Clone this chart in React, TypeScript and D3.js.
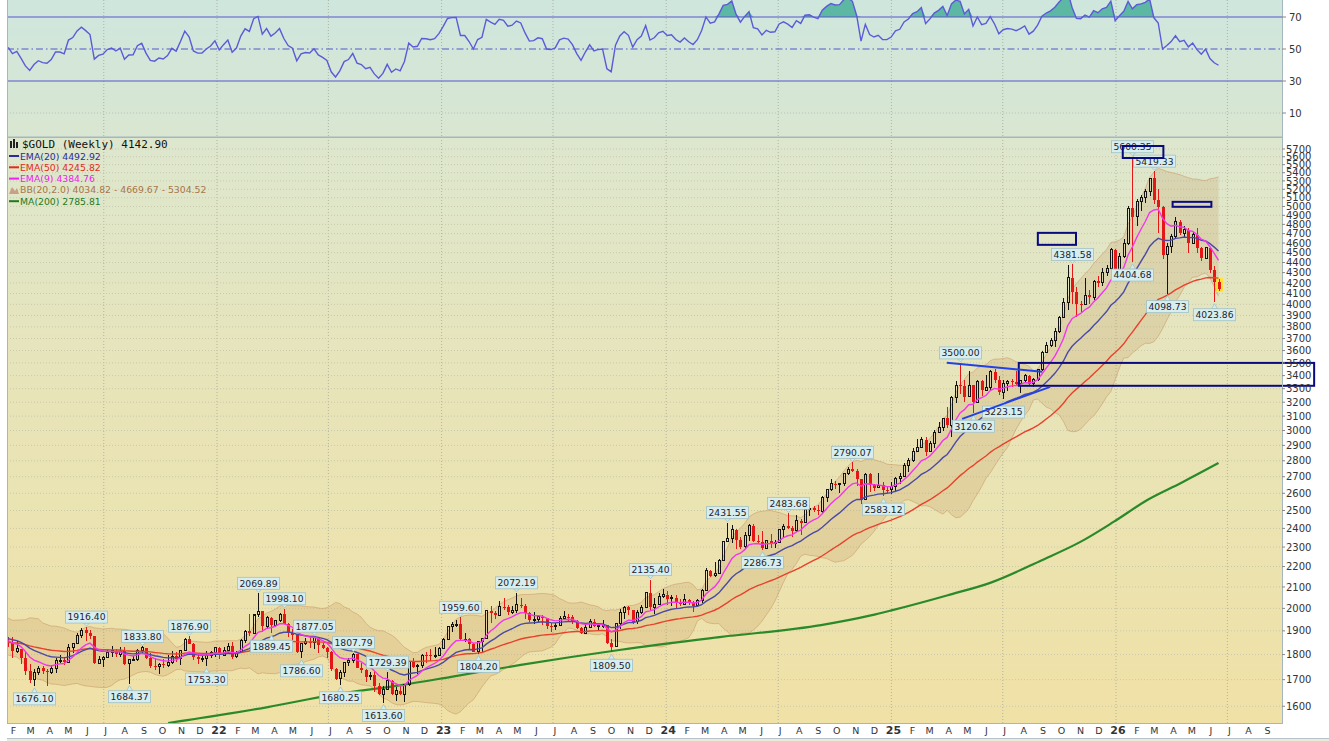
import React from "react";
import * as d3 from "d3";

// ---------- DATA ----------
const FIRST_WEEK = "2021-01-25";

// weekly closes before the first visible bar (indicator warm-up only)
const priorCloses = [
  1774, 1799, 1810, 1902, 1975, 2035, 1944, 1940, 1964, 1934,
  1940, 1950, 1862, 1900, 1930, 1899, 1902, 1879, 1951, 1889,
  1871, 1788, 1839, 1839, 1881, 1883, 1895, 1850, 1828, 1856,
];

const opens = [
  // 2021
  1856, 1848, 1813, 1824, 1784, 1734, 1700, 1727, 1745, 1733,
  1729, 1744, 1777, 1777, 1769, 1831, 1844, 1881, 1903, 1891,
  1877, 1764, 1781, 1787, 1808, 1815, 1802, 1814, 1763, 1780,
  1781, 1818, 1828, 1788, 1754, 1750, 1761, 1757, 1768, 1793,
  1783, 1818, 1865, 1846, 1792, 1783, 1783, 1798, 1809,
  // 2022
  1829, 1797, 1817, 1835, 1791, 1807, 1859, 1898, 1889, 1970,
  1988, 1921, 1958, 1925, 1945, 1974, 1931, 1897, 1883, 1811,
  1846, 1853, 1851, 1871, 1840, 1827, 1811, 1742, 1703, 1727,
  1766, 1775, 1802, 1747, 1738, 1712, 1717, 1675, 1644, 1661,
  1695, 1644, 1657, 1645, 1681, 1771, 1751, 1755, 1798, 1797,
  1793, 1798,
  // 2023
  1824, 1865, 1920, 1926, 1928, 1865, 1865, 1842, 1811, 1856,
  1868, 1989, 1978, 1969, 2008, 2004, 1983, 1990, 2017, 2011,
  1977, 1946, 1948, 1961, 1958, 1921, 1919, 1925, 1955, 1962,
  1959, 1943, 1914, 1889, 1915, 1940, 1919, 1924, 1925, 1848,
  1833, 1932, 1981, 2006, 1992, 1940, 1981, 2002, 2072, 2004,
  2019, 2053,
  // 2024
  2063, 2045, 2049, 2029, 2018, 2039, 2024, 2013, 2035, 2083,
  2179, 2155, 2165, 2230, 2329, 2344, 2392, 2337, 2302, 2360,
  2415, 2334, 2327, 2293, 2333, 2322, 2326, 2392, 2411, 2401,
  2386, 2443, 2431, 2507, 2512, 2503, 2497, 2577, 2622, 2658,
  2653, 2657, 2721, 2747, 2736, 2685, 2563, 2715, 2650, 2633,
  2648, 2622,
  // 2025
  2621, 2640, 2690, 2703, 2770, 2800, 2861, 2883, 2936, 2858,
  2910, 2984, 3023, 3085, 3037, 3237, 3327, 3319, 3240, 3325,
  3200, 3357, 3290, 3310, 3432, 3368, 3273, 3337, 3355, 3350,
  3337, 3363, 3398, 3336, 3371, 3448, 3586, 3643, 3685, 3760,
  3886, 4018, 4250, 4113, 4002, 3999, 4085, 4065, 4218, 4200,
  4300, 4340, 4530,
  // 2026
  4330, 4460, 4590, 4980, 4885, 5060, 5100, 5170, 5330, 5075,
  4996, 4477, 4565, 4669, 4831, 4705, 4740, 4599, 4690, 4547,
  4443, 4550, 4325, 4211,
];

const highs = [
  // 2021
  1875, 1875, 1855, 1825, 1815, 1760, 1740, 1755, 1755, 1740,
  1759, 1784, 1797, 1790, 1845, 1845, 1890, 1913, 1916.4, 1903,
  1878, 1795, 1795, 1818, 1834, 1825, 1832, 1832, 1782, 1795,
  1823, 1833.8, 1828, 1808, 1788, 1764, 1781, 1800, 1814, 1810,
  1818, 1868, 1876.9, 1847, 1808, 1793, 1815, 1815, 1831,
  // 2022
  1831, 1830, 1848, 1853, 1815, 1865, 1903, 1974, 1966, 2069.89,
  1990, 1966, 1960, 1949, 1980, 1998.1, 1936, 1909, 1884, 1849,
  1870, 1874, 1877.05, 1870, 1847, 1830, 1813, 1745, 1739, 1767,
  1788, 1807.79, 1802, 1765, 1740, 1730, 1735, 1688, 1675, 1729.39,
  1700, 1670, 1675, 1683, 1775, 1786, 1763, 1804, 1810, 1824,
  1833, 1833,
  // 2023
  1870, 1922, 1937, 1949, 1959.6, 1890, 1870, 1848, 1858, 1870,
  1989, 2009, 1988, 2032, 2049, 2015, 2009, 2072.19, 2048, 2022,
  1985, 1984, 1971, 1972, 1958, 1935, 1935, 1964, 1987, 1975,
  1970, 1948, 1916, 1925, 1953, 1953, 1932, 1947, 1926, 1867,
  1932, 1997, 2009, 2010, 1993, 1993, 2017, 2075, 2135.4, 2047,
  2070, 2088,
  // 2024
  2079, 2062, 2062, 2042, 2065, 2044, 2032, 2041, 2088, 2195,
  2185, 2223, 2236, 2331, 2431.55, 2418, 2394, 2352, 2378, 2422,
  2425, 2364, 2388, 2336, 2368, 2338, 2392, 2424, 2483.68, 2412,
  2477, 2451, 2509, 2531, 2528, 2529, 2585, 2625, 2685, 2673,
  2664, 2722, 2758, 2790.07, 2750, 2685, 2721, 2721, 2658, 2726,
  2665, 2638,
  // 2025
  2665, 2698, 2726, 2786, 2817, 2886, 2942, 2955, 2956, 2930,
  3005, 3057, 3087, 3168, 3245, 3357, 3500, 3368, 3438, 3328,
  3365, 3368, 3403, 3447, 3451, 3398, 3365, 3368, 3377, 3439,
  3370, 3409, 3404, 3379, 3453, 3600, 3674, 3707, 3791, 3897,
  4059, 4380, 4381.58, 4160, 4030, 4245, 4130, 4230, 4265, 4350,
  4380, 4550, 4540,
  // 2026
  4500, 4640, 5000, 5600.35, 5090, 5130, 5200, 5340, 5419.33, 5200,
  5010, 4600, 4700, 4886, 4850, 4780, 4760, 4720, 4760, 4560,
  4560, 4560, 4370, 4240,
];

const lows = [
  // 2021
  1832, 1785, 1808, 1761, 1717, 1687, 1676.1, 1719, 1721, 1677,
  1721, 1725, 1764, 1756, 1767, 1808, 1843, 1870, 1856, 1866,
  1761, 1762, 1750, 1785, 1792, 1789, 1792, 1757, 1684.37, 1773,
  1774, 1808, 1782, 1745, 1738, 1721, 1746, 1750, 1760, 1770,
  1758, 1817, 1846, 1778, 1762, 1768, 1753.3, 1785, 1791,
  // 2022
  1782, 1796, 1805, 1780, 1788, 1807, 1850, 1878, 1889, 1960,
  1895, 1910, 1889.45, 1915, 1940, 1930, 1872, 1850, 1807, 1786.6,
  1840, 1829, 1825, 1805, 1823, 1784, 1732, 1697, 1680.25, 1711,
  1754, 1765, 1745, 1727, 1689, 1700, 1654, 1640, 1613.6, 1660,
  1642, 1618, 1640, 1617, 1674, 1747, 1721, 1745, 1765, 1774,
  1785, 1795,
  // 2023
  1824, 1860, 1896, 1916, 1861, 1853, 1819, 1809, 1804.2, 1810,
  1865, 1934, 1950, 1965, 1992, 1969, 1974, 1978, 2001, 1952,
  1937, 1932, 1938, 1925, 1910, 1893, 1902, 1922, 1950, 1942,
  1929, 1910, 1885, 1885, 1913, 1915, 1901, 1913, 1846, 1809.5,
  1830, 1908, 1953, 1970, 1932, 1931, 1975, 2001, 1993, 1973,
  2016, 2048,
  // 2024
  2016, 2013, 2002, 2010, 2017, 2014, 1984, 2010, 2024, 2080,
  2146, 2146, 2163, 2228, 2326, 2324, 2291, 2291, 2295, 2334,
  2325, 2320, 2286.73, 2295, 2295, 2293, 2319, 2352, 2394, 2353,
  2382, 2364, 2428, 2470, 2490, 2472, 2485, 2546, 2615, 2624,
  2603, 2641, 2708, 2731, 2643, 2537, 2560, 2605, 2613, 2630,
  2583.12, 2603,
  // 2025
  2596, 2615, 2656, 2702, 2730, 2790, 2855, 2882, 2833, 2855,
  2880, 2980, 3000, 3015, 2957, 3195, 3260, 3202, 3236, 3120.62,
  3195, 3245, 3285, 3293, 3340, 3255, 3223.15, 3282, 3310, 3325,
  3268, 3350, 3331, 3312, 3362, 3436, 3578, 3627, 3628, 3750,
  3880, 3950, 4005, 3886, 3930, 3990, 4000, 4040, 4160, 4170,
  4270, 4330, 4300,
  // 2026
  4320, 4450, 4580, 4404.68, 4780, 4950, 5040, 5120, 5030, 4705,
  4440, 4098.73, 4500, 4640, 4690, 4650, 4495, 4590, 4495, 4420,
  4440, 4300, 4023.86, 4120,
];

const closes = [
  // 2021
  1848, 1813, 1824, 1784, 1734, 1700, 1727, 1745, 1733, 1729,
  1744, 1777, 1777, 1769, 1831, 1844, 1881, 1903, 1891, 1877,
  1764, 1781, 1787, 1808, 1815, 1802, 1814, 1763, 1780, 1781,
  1818, 1828, 1788, 1754, 1750, 1761, 1757, 1768, 1793, 1783,
  1818, 1865, 1846, 1792, 1783, 1783, 1798, 1809, 1829,
  // 2022
  1797, 1817, 1835, 1791, 1807, 1859, 1898, 1889, 1970, 1988,
  1921, 1958, 1925, 1945, 1974, 1931, 1897, 1883, 1811, 1846,
  1853, 1851, 1871, 1840, 1827, 1811, 1742, 1703, 1727, 1766,
  1775, 1802, 1747, 1738, 1712, 1717, 1675, 1644, 1661, 1695,
  1644, 1657, 1645, 1681, 1771, 1751, 1755, 1798, 1797, 1793,
  1798, 1824,
  // 2023
  1865, 1920, 1926, 1928, 1865, 1865, 1842, 1811, 1856, 1868,
  1989, 1978, 1969, 2008, 2004, 1983, 1990, 2017, 2011, 1977,
  1946, 1948, 1961, 1958, 1921, 1919, 1925, 1955, 1962, 1959,
  1943, 1914, 1889, 1915, 1940, 1919, 1924, 1925, 1848, 1833,
  1932, 1981, 2006, 1992, 1940, 1981, 2002, 2072, 2004, 2019,
  2053, 2063,
  // 2024
  2045, 2049, 2029, 2018, 2039, 2024, 2013, 2035, 2083, 2179,
  2155, 2165, 2230, 2329, 2344, 2392, 2337, 2302, 2360, 2415,
  2334, 2327, 2293, 2333, 2322, 2326, 2392, 2411, 2401, 2386,
  2443, 2431, 2507, 2512, 2503, 2497, 2577, 2622, 2658, 2653,
  2657, 2721, 2747, 2736, 2685, 2563, 2715, 2650, 2633, 2648,
  2622, 2621,
  // 2025
  2640, 2690, 2703, 2770, 2800, 2861, 2883, 2936, 2858, 2910,
  2984, 3023, 3085, 3037, 3237, 3327, 3319, 3240, 3325, 3200,
  3357, 3290, 3310, 3432, 3368, 3273, 3337, 3355, 3350, 3337,
  3363, 3398, 3336, 3371, 3448, 3586, 3643, 3685, 3760, 3886,
  4018, 4250, 4113, 4002, 3999, 4085, 4065, 4218, 4200, 4300,
  4340, 4530, 4330,
  // 2026
  4460, 4590, 4980, 4885, 5060, 5100, 5170, 5330, 5075, 4996,
  4477, 4565, 4669, 4831, 4705, 4740, 4599, 4690, 4547, 4443,
  4550, 4325, 4211, 4142.9,
];

// pivot labels
const labelDates = [
  "2021-03-08", "2021-05-31", "2021-08-09", "2021-08-30", "2021-11-15", "2021-12-13",
  "2022-03-07", "2022-03-28", "2022-04-18", "2022-05-16", "2022-06-06", "2022-07-18",
  "2022-08-08", "2022-09-26", "2022-10-03", "2023-01-30", "2023-02-27", "2023-05-01",
  "2023-10-02", "2023-12-04", "2024-04-08", "2024-06-03", "2024-07-15", "2024-10-28",
  "2024-12-16", "2025-04-21", "2025-05-12", "2025-06-30", "2025-10-20", "2026-01-26",
  "2026-01-26", "2026-03-02", "2026-03-23", "2026-06-08",
];
const labelValues = [
  1676.1, 1916.4, 1684.37, 1833.8, 1876.9, 1753.3,
  2069.89, 1889.45, 1998.1, 1786.6, 1877.05, 1680.25,
  1807.79, 1613.6, 1729.39, 1959.6, 1804.2, 2072.19,
  1809.5, 2135.4, 2431.55, 2286.73, 2483.68, 2790.07,
  2583.12, 3500.0, 3120.62, 3223.15, 4381.58, 5600.35,
  4404.68, 5419.33, 4098.73, 4023.86,
];
const labelSides = [
  "L", "H", "L", "H", "H", "L",
  "H", "L", "H", "L", "H", "L",
  "H", "L", "H", "H", "L", "H",
  "L", "H", "H", "L", "H", "H",
  "L", "H", "L", "L", "H", "H",
  "L", "H", "L", "L",
];

// MA(200)
const ma200Dates = [
  "2021-10-12", "2022-03-23", "2022-07-08", "2022-10-26", "2023-01-15", "2023-05-08",
  "2023-10-18", "2024-03-29", "2024-09-07", "2024-11-27", "2025-01-01", "2025-04-01",
  "2025-06-10", "2025-08-31", "2025-11-04", "2025-12-27", "2026-02-20", "2026-04-15",
  "2026-06-15",
];
const ma200Values = [
  1540, 1597, 1643, 1679, 1711, 1758,
  1820, 1874, 1925, 1968, 1992, 2061,
  2121, 2231, 2330, 2437, 2562, 2662,
  2785.81,
];

// hand-drawn annotations (date / price coordinates)
const boxStart = ["2026-01-12", "2026-04-03", "2025-08-27", "2025-07-27"];
const boxEnd = ["2026-03-19", "2026-06-05", "2025-10-28", "2026-11-19"];
const boxTop = [5739, 5053, 4708, 3500];
const boxBottom = [5584, 4996, 4581, 3322];
const trendStartDate = ["2025-04-01", "2025-04-26"];
const trendStartPrice = [3502, 3081];
const trendEndDate = ["2025-09-03", "2025-09-16"];
const trendEndPrice = [3430, 3314];

const legendTitle = "$GOLD (Weekly) 4142.90";
const legendTexts = [
  "EMA(20) 4492.92",
  "EMA(50) 4245.82",
  "EMA(9) 4384.76",
  "BB(20,2.0) 4034.82 - 4669.67 - 5304.52",
  "MA(200) 2785.81",
];
const legendColors = ["#2b2b9c", "#e42a1a", "#ee22ee", "#a8764c", "#1f7a1f"];
const rsiTicks = [10, 30, 50, 70];
const monthLetters = ["J", "F", "M", "A", "M", "J", "J", "A", "S", "O", "N", "D"];

// ---------- LAYOUT ----------
const W = 1329;
const H = 741;
const PL = 7;
const PR = 1282;
const RSI_BOT = 137;
const MAIN_TOP = 137;
const MAIN_BOT = 723;

const parse = d3.timeParse("%Y-%m-%d");

export default function App() {
  const t0 = parse(FIRST_WEEK) as Date;
  const dates = closes.map((_, i) => d3.timeMonday.offset(t0, i));

  const x = d3.scaleTime().domain([new Date(2021, 0, 1), new Date(2026, 0, 1)]).range([-7.6, 1116]);
  const y = d3.scaleLog().domain([1540, 5858]).range([MAIN_BOT, MAIN_TOP]);
  const yr = d3.scaleLinear().domain([0, 80]).range([129, 1]);
  const cx = (d: Date) => x(d) + 1;

  // indicators
  const all = [...priorCloses, ...closes];
  const off = priorCloses.length;
  const ema = (p: number) => {
    const k = 2 / (p + 1);
    let e = all[0];
    const out: number[] = [];
    all.forEach((c, i) => {
      e = i === 0 ? c : c * k + e * (1 - k);
      out.push(e);
    });
    return out.slice(off);
  };
  const ema9 = ema(9);
  const ema20 = ema(20);
  const ema50 = ema(50);
  const bbU: number[] = [];
  const bbL: number[] = [];
  closes.forEach((_, i) => {
    const j = i + off;
    const win = all.slice(j - 19, j + 1);
    const m = d3.mean(win) as number;
    const sd = Math.sqrt(d3.mean(win, (v) => (v - m) * (v - m)) as number);
    bbU.push(m + 2 * sd);
    bbL.push(m - 2 * sd);
  });
  const rsiAll: number[] = new Array(all.length).fill(NaN);
  let ag = 0;
  let al = 0;
  for (let i = 1; i <= 14; i++) {
    const ch = all[i] - all[i - 1];
    ag += Math.max(ch, 0);
    al += Math.max(-ch, 0);
  }
  ag /= 14;
  al /= 14;
  rsiAll[14] = 100 - 100 / (1 + ag / al);
  for (let i = 15; i < all.length; i++) {
    const ch = all[i] - all[i - 1];
    ag = (ag * 13 + Math.max(ch, 0)) / 14;
    al = (al * 13 + Math.max(-ch, 0)) / 14;
    rsiAll[i] = al === 0 ? 100 : 100 - 100 / (1 + ag / al);
  }
  const rsi = rsiAll.slice(off);

  const lineOf = (arr: number[]) =>
    d3.line<number>().x((_, i) => cx(dates[i])).y((v) => y(v))(arr) as string;
  const bbArea = d3
    .area<number>()
    .x((_, i) => cx(dates[i]))
    .y0((_, i) => y(bbL[i]))
    .y1((_, i) => y(bbU[i]))(closes) as string;
  const bbUpperPath = lineOf(bbU);
  const bbLowerPath = lineOf(bbL);
  const maPts = ma200Dates.map((d, i) => [x(parse(d) as Date) + 1, y(ma200Values[i])] as [number, number]);
  const maPath = d3.line().curve(d3.curveMonotoneX)(maPts) as string;

  const rsiLine = d3.line<number>().x((_, i) => cx(dates[i])).y((v) => yr(v))(rsi) as string;
  const rsiFill = d3
    .area<number>()
    .x((_, i) => cx(dates[i]))
    .y0(yr(70))
    .y1((v) => yr(Math.max(v, 70)))(rsi) as string;

  const months = d3.timeMonth.range(new Date(2021, 1, 1), new Date(2026, 8, 2));
  const halfYears = months.filter((m) => m.getMonth() % 6 === 0);
  const yTicks = d3.range(1600, 5701, 100);

  const font = "'DejaVu Sans', Verdana, sans-serif";
  const lastIdx = closes.length - 1;

  return (
    <div style={{ position: "absolute", left: 0, top: 0 }}>
      <svg width={W} height={H} style={{ display: "block", background: "#ffffff" }}>
        <defs>
          <linearGradient id="gRsi" x1="0" y1="0" x2="0" y2="1">
            <stop offset="0" stopColor="#cfe6de" />
            <stop offset="1" stopColor="#d9e6d1" />
          </linearGradient>
          <linearGradient id="gMain" x1="0" y1="0" x2="0" y2="1">
            <stop offset="0" stopColor="#dde7ce" />
            <stop offset="0.45" stopColor="#e8e4b8" />
            <stop offset="1" stopColor="#f0e1a6" />
          </linearGradient>
          <clipPath id="cMain">
            <rect x={PL} y={MAIN_TOP} width={PR - PL} height={MAIN_BOT - MAIN_TOP} />
          </clipPath>
          <clipPath id="cRsi">
            <rect x={PL} y={0} width={PR - PL} height={RSI_BOT} />
          </clipPath>
        </defs>

        {/* panel backgrounds */}
        <rect x={PL} y={0} width={PR - PL} height={RSI_BOT} fill="url(#gRsi)" />
        <rect x={PL} y={MAIN_TOP} width={PR - PL} height={MAIN_BOT - MAIN_TOP} fill="url(#gMain)" />

        {/* grids */}
        {halfYears.map((m, i) => (
          <g key={"vg" + i}>
            <line x1={x(m)} x2={x(m)} y1={0} y2={RSI_BOT} stroke="#aab4a4" strokeDasharray="1,2" />
            <line x1={x(m)} x2={x(m)} y1={MAIN_TOP} y2={MAIN_BOT} stroke="#b3b49c" strokeDasharray="1,2" />
          </g>
        ))}
        {yTicks.map((t) => (
          <line key={"hg" + t} x1={PL} x2={PR} y1={y(t)} y2={y(t)} stroke="#c9c9ab" strokeDasharray="1,2" />
        ))}
        <line x1={PL} x2={PR} y1={yr(10)} y2={yr(10)} stroke="#b5c3b6" strokeDasharray="1,2" />

        {/* RSI panel */}
        <g clipPath="url(#cRsi)">
          <path d={rsiFill} fill="#5cb7a3" />
          <line x1={PL} x2={PR} y1={yr(70)} y2={yr(70)} stroke="#5656cc" strokeWidth={1.2} />
          <line x1={PL} x2={PR} y1={yr(30)} y2={yr(30)} stroke="#5656cc" strokeWidth={1.2} />
          <line x1={PL} x2={PR} y1={yr(50)} y2={yr(50)} stroke="#5656cc" strokeWidth={1.2} strokeDasharray="7,3,1.5,3" />
          <path d={rsiLine} fill="none" stroke="#5b5bd8" strokeWidth={1.4} />
        </g>

        {/* main panel */}
        <g clipPath="url(#cMain)">
          <path d={bbArea} fill="#c08a50" fillOpacity={0.2} />
          <path d={bbUpperPath} fill="none" stroke="#c89868" strokeOpacity={0.55} strokeWidth={1} />
          <path d={bbLowerPath} fill="none" stroke="#c89868" strokeOpacity={0.55} strokeWidth={1} />
          <path d={maPath} fill="none" stroke="#2a8a2a" strokeWidth={2.2} />

          {closes.map((c, i) => {
            const o = opens[i];
            const h = highs[i];
            const l = lows[i];
            const prev = i > 0 ? closes[i - 1] : o;
            const col = c >= prev ? "#141414" : "#e41616";
            const hollow = c >= o;
            const xi = Math.round(cx(dates[i]));
            const xc = xi + 0.5;
            const yTop = y(Math.max(o, c));
            const yBot = y(Math.min(o, c));
            const bh = Math.max(yBot - yTop, 1);
            return (
              <g key={"k" + i} shapeRendering="crispEdges">
                {i === lastIdx && (
                  <rect x={xi - 3} y={y(h) - 1} width={7} height={y(l) - y(h) + 2} fill="#ffe23a" />
                )}
                <line x1={xc} x2={xc} y1={y(h)} y2={yTop} stroke={col} />
                <line x1={xc} x2={xc} y1={yTop + bh} y2={y(l)} stroke={col} />
                {hollow ? (
                  <rect x={xi - 0.5} y={yTop} width={2} height={bh} fill="none" stroke={col} strokeWidth={1} />
                ) : (
                  <rect x={xi - 1} y={yTop} width={3} height={bh} fill={col} />
                )}
              </g>
            );
          })}

          <path d={lineOf(ema50)} fill="none" stroke="#e8422c" strokeWidth={1.4} />
          <path d={lineOf(ema20)} fill="none" stroke="#4a4aa6" strokeWidth={1.4} />
          <path d={lineOf(ema9)} fill="none" stroke="#f535ee" strokeWidth={1.4} />
        </g>

        {/* price labels */}
        {labelDates.map((ds, i) => {
          const d = parse(ds) as Date;
          const lx = Math.round(cx(d)) + 0.5;
          const ly = y(labelValues[i]);
          const txt = labelValues[i].toFixed(2);
          const fs = 9.2;
          const tw = (txt.length - 1) * 0.636 * fs + 0.318 * fs;
          const bw = tw + 4;
          const isH = labelSides[i] === "H";
          const cy = isH ? ly - 10 : ly + 13;
          const tri = isH
            ? `M${lx - 3},${cy + 6} L${lx + 3},${cy + 6} L${lx},${ly - 1} Z`
            : `M${lx - 3},${cy - 6} L${lx + 3},${cy - 6} L${lx},${ly + 2} Z`;
          return (
            <g key={"lb" + i}>
              <path d={tri} fill="#d5ecec" stroke="#9fc0c6" strokeWidth={0.8} />
              <rect x={lx - bw / 2} y={cy - 6} width={bw} height={12} fill="#d8eeee" stroke="#9fc0c6" strokeWidth={0.8} />
              <text x={lx} y={cy + 3.4} fontFamily={font} fontSize={fs} fill="#1c2230" textAnchor="middle">
                {txt}
              </text>
            </g>
          );
        })}

        {/* annotations */}
        {boxStart.map((s, i) => {
          const x1 = x(parse(s) as Date);
          const x2 = x(parse(boxEnd[i]) as Date);
          const y1 = y(boxTop[i]);
          const y2 = y(boxBottom[i]);
          return (
            <rect key={"bx" + i} x={x1} y={y1} width={x2 - x1} height={y2 - y1} fill="none" stroke="#0a0a80" strokeWidth={2} />
          );
        })}
        {trendStartDate.map((s, i) => (
          <line
            key={"tl" + i}
            x1={x(parse(s) as Date)}
            y1={y(trendStartPrice[i])}
            x2={x(parse(trendEndDate[i]) as Date)}
            y2={y(trendEndPrice[i])}
            stroke="#2242e8"
            strokeWidth={2}
          />
        ))}

        {/* legend */}
        <g>
          <rect x={10} y={141} width={2} height={7} fill="#222" />
          <rect x={13} y={139} width={2} height={9} fill="#222" />
          <rect x={16} y={142} width={2} height={6} fill="#222" />
          <text x={22} y={148} fontFamily="'DejaVu Sans Mono', monospace" fontSize={11} fill="#111">
            {legendTitle}
          </text>
          {legendTexts.map((t, i) => {
            const cyL = 156 + i * 11.3;
            return (
              <g key={"lg" + i}>
                {i === 3 ? (
                  <path d={`M9,${cyL + 4} L12,${cyL - 3} L15,${cyL + 1} L17,${cyL - 2} L19,${cyL + 4} Z`} fill="#c8a088" />
                ) : (
                  <rect x={9} y={cyL - 1} width={10} height={2} fill={legendColors[i]} />
                )}
                <text x={20} y={cyL + 3.5} fontFamily={font} fontSize={9.3} fill={legendColors[i]}>
                  {t}
                </text>
              </g>
            );
          })}
        </g>

        {/* panel borders */}
        <rect x={PL + 0.5} y={-1} width={PR - PL} height={RSI_BOT + 1} fill="none" stroke="#a6b6be" />
        <rect x={PL + 0.5} y={MAIN_TOP + 0.5} width={PR - PL} height={MAIN_BOT - MAIN_TOP} fill="none" stroke="#a6b6be" />

        {/* right axes */}
        {rsiTicks.map((t) => (
          <g key={"rt" + t}>
            <line x1={PR} x2={PR + 4} y1={yr(t)} y2={yr(t)} stroke="#888" />
            <text x={PR + 7} y={yr(t) + 3.6} fontFamily={font} fontSize={10} fill="#333">
              {t}
            </text>
          </g>
        ))}
        {yTicks.map((t) => (
          <g key={"yt" + t}>
            <line x1={PR} x2={PR + 3} y1={y(t)} y2={y(t)} stroke="#888" />
            <text x={PR + 4} y={y(t) + 3.6} fontFamily={font} fontSize={10} fill="#333">
              {t}
            </text>
          </g>
        ))}

        {/* bottom axis */}
        <line x1={PL} x2={PR} y1={MAIN_BOT + 0.5} y2={MAIN_BOT + 0.5} stroke="#a6b6be" strokeDasharray="1,1" />
        <line x1={PL} x2={W} y1={738.5} y2={738.5} stroke="#b8c4cc" />
        <rect x={PL} y={739} width={W - PL} height={2} fill="#e9ead8" />
        {months.map((m, i) => {
          const isYear = m.getMonth() === 0;
          return (
            <text
              key={"mt" + i}
              x={x(m) + 2}
              y={734}
              fontFamily={font}
              fontSize={isYear ? 11 : 9.5}
              fontWeight={isYear ? "bold" : "normal"}
              fill="#333"
              textAnchor="middle"
            >
              {isYear ? String(m.getFullYear()).slice(2) : monthLetters[m.getMonth()]}
            </text>
          );
        })}
      </svg>
    </div>
  );
}
